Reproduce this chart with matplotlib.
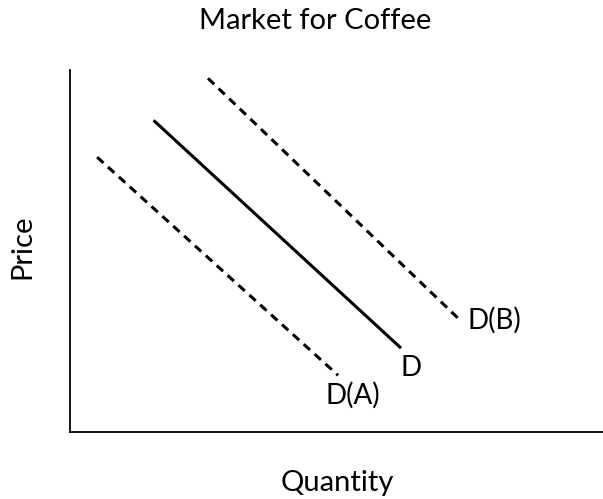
import matplotlib
matplotlib.use("Agg")
import matplotlib.pyplot as plt

plt.rcParams['font.family'] = ['Lato', 'DejaVu Sans']

# demand curves (start, end) in arbitrary price/quantity units
qty_a = [0.51, 5.03]
price_a = [7.60, 1.57]
qty_d = [1.59, 6.19]
price_d = [8.59, 2.35]
qty_b = [2.59, 7.28]
price_b = [9.78, 3.15]

labels = ["D(A)", "D", "D(B)"]
label_x = [5.31, 6.40, 7.97]
label_y = [1.02, 1.77, 3.09]

fig = plt.figure(figsize=(6.03, 4.99), dpi=100)
ax = fig.add_axes([0.116, 0.134, 0.884, 0.725])

dash = (0, (2.8, 2.0))
ax.plot(qty_a, price_a, color="black", lw=2.2, linestyle=dash)
ax.plot(qty_d, price_d, color="black", lw=2.2)
ax.plot(qty_b, price_b, color="black", lw=2.2, linestyle=dash)

for lab, x, y in zip(labels, label_x, label_y):
    ax.text(x, y, lab, fontsize=20, ha="center", va="center")

ax.set_xlim(0, 10)
ax.set_ylim(0, 10)
ax.set_xticks([])
ax.set_yticks([])
ax.spines["top"].set_visible(False)
ax.spines["right"].set_visible(False)
ax.spines["left"].set_linewidth(1.3)
ax.spines["bottom"].set_linewidth(1.3)

fig.text(0.522, 0.958, "Market for Coffee", fontsize=21, ha="center", va="center")
fig.text(0.56, 0.032, "Quantity", fontsize=21, ha="center", va="center")
fig.text(0.037, 0.505, "Price", fontsize=21, ha="center", va="center", rotation=90)

fig.savefig("out.png", dpi=100)
